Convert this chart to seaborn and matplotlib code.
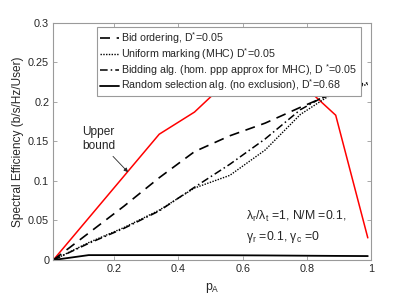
import numpy as np
import pandas as pd
import matplotlib
matplotlib.use("Agg")
import matplotlib.pyplot as plt
import seaborn as sns

# ---- data ----
p_a = [0.01, 0.12, 0.23, 0.34, 0.45, 0.56, 0.67, 0.78, 0.89, 0.99]
upper_bound = [0.0, 0.053, 0.106, 0.159, 0.187, 0.229, 0.240, 0.224, 0.183, 0.028]
bid_ordering = [0.0, 0.034, 0.068, 0.104, 0.137, 0.157, 0.173, 0.193, 0.212, 0.225]
uniform_marking = [0.0, 0.022, 0.041, 0.063, 0.091, 0.107, 0.139, 0.184, 0.213, 0.222]
bidding_alg = [0.0, 0.021, 0.040, 0.062, 0.092, 0.121, 0.153, 0.190, 0.215, 0.224]
random_sel = [0.0, 0.0062, 0.0062, 0.0062, 0.0061, 0.006, 0.0058, 0.0055, 0.0052, 0.005]

labels = [
    r"Bid ordering, D$^{*}$=0.05",
    r"Uniform marking (MHC) D$^{*}$=0.05",
    r"Bidding alg. (hom. ppp approx for MHC), D $^{*}$=0.05",
    r"Random selection alg. (no exclusion), D$^{*}$=0.68",
]
x_ticks = [0.2, 0.4, 0.6, 0.8, 1.0]
x_ticklabels = ["0.2", "0.4", "0.6", "0.8", "1"]
y_ticks = [0, 0.05, 0.1, 0.15, 0.2, 0.25, 0.3]
y_ticklabels = ["0", "0.05", "0.1", "0.15", "0.2", "0.25", "0.3"]

sns.set_style("white")
plt.rcParams["font.family"] = ["Liberation Sans", "DejaVu Sans"]
plt.rcParams["mathtext.default"] = "regular"

txt = "#262626"
spine = "#9a9a9a"

fig = plt.figure(figsize=(4.11, 3.02), dpi=100)
ax = fig.add_axes([0.1297, 0.139, 0.7730, 0.786])

def df(y):
    return pd.DataFrame({"x": p_a, "y": y})

sns.lineplot(data=df(upper_bound), x="x", y="y", ax=ax, color="#ff0000", lw=1.1, label="_nolegend_")
sns.lineplot(data=df(bid_ordering), x="x", y="y", ax=ax, color="black", lw=1.2,
             linestyle=(0, (6, 4)), label=labels[0])
sns.lineplot(data=df(uniform_marking), x="x", y="y", ax=ax, color="black", lw=1.0,
             linestyle=(0, (1, 1)), label=labels[1])
sns.lineplot(data=df(bidding_alg), x="x", y="y", ax=ax, color="black", lw=1.1,
             linestyle=(0, (5, 2, 1, 2)), label=labels[2])
sns.lineplot(data=df(random_sel), x="x", y="y", ax=ax, color="black", lw=1.3,
             linestyle="-", label=labels[3])

ax.set_xlim(0.01, 1.0)
ax.set_ylim(0, 0.3)
ax.set_xticks(x_ticks)
ax.set_xticklabels(x_ticklabels)
ax.set_yticks(y_ticks)
ax.set_yticklabels(y_ticklabels)
ax.tick_params(direction="in", length=3, width=0.6, colors=spine, labelcolor=txt,
               labelsize=7.8, top=True, right=True, bottom=True, left=True, pad=3)
for s in ax.spines.values():
    s.set_color(spine)
    s.set_linewidth(0.8)

ax.set_xlabel(r"p$_A$", fontsize=8.8, color=txt, labelpad=5)
ax.set_ylabel("Spectral Efficiency (b/s/Hz/User)", fontsize=8.6, color=txt, labelpad=3)

leg = ax.legend(loc="upper left", bbox_to_anchor=(0.1375, 0.982), borderaxespad=0,
                fontsize=7.65, frameon=True, fancybox=False, framealpha=1,
                edgecolor=spine, handlelength=1.8, handletextpad=0.2,
                borderpad=0.3, labelspacing=0.0)
leg.get_frame().set_linewidth(0.8)
for t in leg.get_texts():
    t.set_color(txt)

ax.text(0.099, 0.153, "Upper\nbound", fontsize=8.6, color=txt, ha="left", va="center",
        linespacing=1.25)
ax.annotate("", xy=(0.243, 0.111), xytext=(0.196, 0.131),
            arrowprops=dict(arrowstyle="-|>", color=txt, lw=0.6,
                            mutation_scale=6, shrinkA=0, shrinkB=0))

ax.text(0.61, 0.055, r"$\lambda_r/\lambda_t$ =1, N/M =0.1,", fontsize=8.8, color=txt,
        ha="left", va="center")
ax.text(0.61, 0.029, r"$\gamma_r$ =0.1, $\gamma_c$ =0", fontsize=8.8, color=txt,
        ha="left", va="center")

fig.savefig("out.png", dpi=100)
